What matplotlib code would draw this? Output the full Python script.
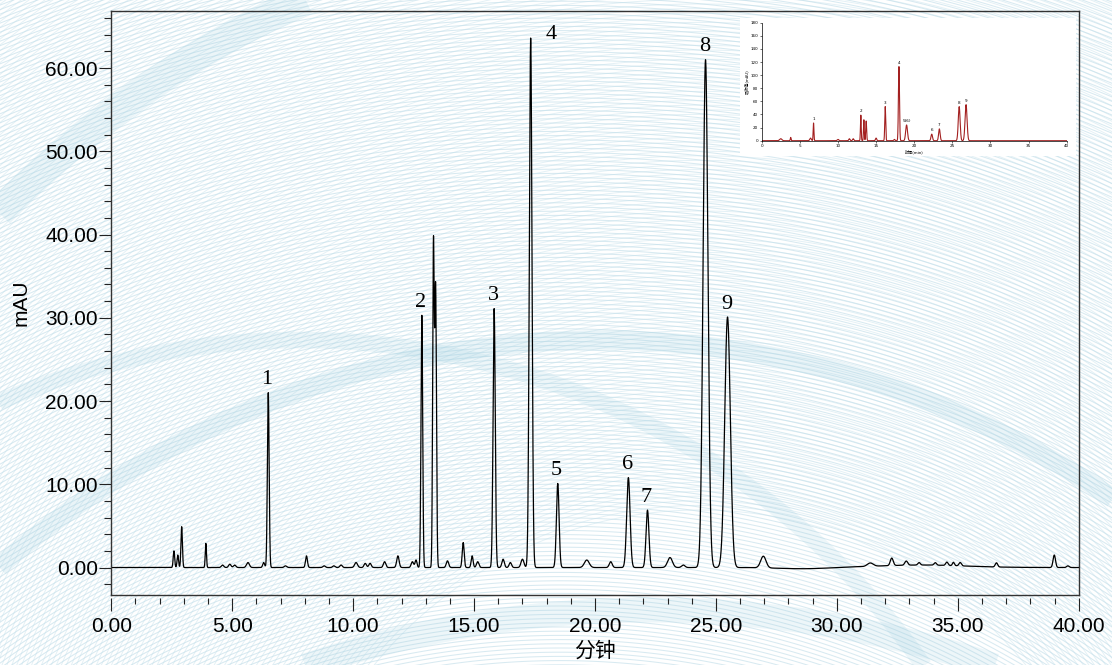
import numpy as np
import matplotlib
matplotlib.use("Agg")
import matplotlib.pyplot as plt
from matplotlib.collections import LineCollection
from matplotlib.ticker import MultipleLocator, FormatStrFormatter

# ---------------- data ----------------
# retention time (min), height (mAU), peak sigma (min)
peak_times = [2.59, 2.75, 2.91, 3.91, 4.60, 4.90, 5.10, 5.65, 6.30, 6.49,
              7.20, 8.07, 8.80, 9.20, 9.50, 10.12, 10.50, 10.70, 11.30, 11.85,
              12.45, 12.60, 12.84, 13.32, 13.41, 13.90, 14.55, 14.92, 15.15, 15.83,
              16.20, 16.50, 17.00, 17.34, 18.46, 19.66, 20.65, 21.38, 22.17, 23.10,
              23.65, 24.57, 25.48, 26.96, 31.38, 32.27, 32.87, 33.40, 34.07, 34.55,
              34.82, 35.10, 36.60, 38.99, 39.55]
peak_heights = [2.0, 1.5, 4.9, 2.9, 0.3, 0.4, 0.3, 0.6, 0.6, 21.0,
                0.2, 1.4, 0.2, 0.2, 0.3, 0.6, 0.5, 0.5, 0.7, 1.4,
                0.7, 0.9, 30.3, 38.5, 33.5, 0.8, 3.0, 1.4, 0.7, 31.1,
                1.0, 0.6, 1.0, 63.6, 10.1, 0.9, 0.7, 10.8, 6.9, 1.2,
                0.3, 61.0, 30.1, 1.4, 0.4, 0.9, 0.5, 0.3, 0.3, 0.4,
                0.4, 0.4, 0.5, 1.5, 0.2]
peak_sigmas = [0.03, 0.03, 0.03, 0.025, 0.05, 0.05, 0.05, 0.06, 0.04, 0.036,
               0.05, 0.04, 0.05, 0.05, 0.05, 0.06, 0.05, 0.05, 0.05, 0.05,
               0.05, 0.04, 0.035, 0.032, 0.035, 0.05, 0.04, 0.04, 0.05, 0.045,
               0.05, 0.05, 0.06, 0.055, 0.055, 0.10, 0.06, 0.07, 0.06, 0.10,
               0.07, 0.10, 0.115, 0.11, 0.12, 0.06, 0.06, 0.05, 0.05, 0.05,
               0.04, 0.05, 0.05, 0.05, 0.05]
# slow baseline drift components
drift_times = [28.6, 33.5]
drift_heights = [-0.15, 0.3]
drift_sigmas = [1.0, 1.8]

label_names = ["1", "2", "3", "4", "5", "6", "7", "8", "9"]
label_times = [6.49, 12.84, 15.83, 17.34, 18.46, 21.38, 22.17, 24.57, 25.48]

x_ticks = [0, 5, 10, 15, 20, 25, 30, 35, 40]
y_ticks = [0, 10, 20, 30, 40, 50, 60]

# inset (original full-scale chromatogram)
inset_times = [2.5, 3.8, 6.4, 6.8, 10.0, 11.5, 12.0, 13.0, 13.4, 13.7,
               15.0, 16.2, 17.4, 18.0, 19.0, 22.3, 23.3, 25.9, 26.8]
inset_heights = [3, 5, 4, 27, 2, 3, 3, 39, 32, 30,
                 4, 52, 2, 113, 24, 10, 18, 52, 55]
inset_sigmas = [0.15, 0.05, 0.1, 0.05, 0.1, 0.08, 0.08, 0.05, 0.05, 0.06,
                0.08, 0.06, 0.08, 0.07, 0.12, 0.1, 0.1, 0.12, 0.13]
inset_label_names = ["1", "2", "3", "4", "5(6)", "6", "7", "8", "9"]
inset_label_times = [6.8, 13.0, 16.2, 18.0, 19.0, 22.3, 23.3, 25.9, 26.8]


def trace(t, times, heights, sigmas):
    s = np.zeros_like(t)
    for c, h, w in zip(times, heights, sigmas):
        s += h * np.exp(-0.5 * ((t - c) / w) ** 2)
    return s


W, H = 1112, 665
fig = plt.figure(figsize=(W / 100, H / 100), dpi=100)
fig.patch.set_facecolor("white")

# ---------------- decorative background ----------------
bg = fig.add_axes([0, 0, 1, 1], zorder=-10)
bg.set_xlim(0, W)
bg.set_ylim(H, 0)
bg.axis("off")
th = np.linspace(0, 2 * np.pi, 1500)


def circle_family(cx, cy, radii, color, lw, alpha):
    segs = [np.column_stack([cx + r * np.cos(th), cy + r * np.sin(th)]) for r in radii]
    bg.add_collection(LineCollection(segs, colors=color, linewidths=lw, alpha=alpha))


circle_family(560, 1450, np.arange(760, 1750, 4.2), "#b8d9e6", 0.75, 0.55)
circle_family(700, 930, np.arange(420, 1200, 4.6), "#c3e0eb", 0.7, 0.45)

# broad translucent bands
for cx, cy, r, lw, a in [(600, 1250, 910, 14, 0.22),
                         (720, 920, 1010, 22, 0.2),
                         (650, 1700, 1090, 18, 0.18),
                         (300, 1100, 760, 12, 0.18)]:
    bg.plot(cx + r * np.cos(th), cy + r * np.sin(th), color="#9fcfe0", lw=lw, alpha=a,
            solid_capstyle="butt")

# ---------------- main chromatogram ----------------
ax = fig.add_axes([111.3 / W, 1 - 595 / H, (1078.7 - 111.3) / W, (595 - 10.6) / H], zorder=1)
ax.patch.set_visible(False)

t = np.linspace(0, 40, 16001)
sig = trace(t, peak_times, peak_heights, peak_sigmas) + trace(t, drift_times, drift_heights, drift_sigmas)
ax.plot(t, sig, color="black", lw=0.9)

ax.set_xlim(0, 40)
ax.set_ylim(-3.3, 66.9)

ax.set_xticks(x_ticks)
ax.set_yticks(y_ticks)
ax.xaxis.set_minor_locator(MultipleLocator(1))
ax.yaxis.set_minor_locator(MultipleLocator(2))
ax.xaxis.set_major_formatter(FormatStrFormatter("%.2f"))
ax.yaxis.set_major_formatter(FormatStrFormatter("%.2f"))

for s in ["top", "right", "left"]:
    ax.spines[s].set_color("#333333")
    ax.spines[s].set_linewidth(1.0)
ax.spines["bottom"].set_position(("outward", 2.2))
ax.spines["bottom"].set_visible(False)
ax.plot([0, 1], [0, 0], transform=ax.transAxes, color="#333333", lw=1.0, clip_on=False)

tick_font = "Liberation Sans"
ax.tick_params(axis="y", which="major", length=8.4, width=0.8, pad=1.2, labelsize=15, color="#222222")
ax.tick_params(axis="y", which="minor", length=5.0, width=0.8, color="#222222")
ax.tick_params(axis="x", which="major", length=9.4, width=0.8, pad=4, labelsize=15, color="#222222")
ax.tick_params(axis="x", which="minor", length=4.3, width=0.8, color="#222222")
for lab in ax.get_xticklabels() + ax.get_yticklabels():
    lab.set_fontfamily(tick_font)

ax.set_ylabel("mAU", fontsize=15, fontfamily=tick_font)
ax.yaxis.set_label_coords(-(111.3 - 31) / (1078.7 - 111.3), 0.5)
ax.set_xlabel("分钟", fontsize=15, fontfamily=["Noto Sans CJK SC", "DejaVu Sans"])
ax.xaxis.set_label_coords(0.5, -(640 - 595) / (595 - 10.6))

# peak labels
for name, lt in zip(label_names, label_times):
    top = np.interp(lt, t, sig)
    if name == "4":
        ax.text(lt + 0.85, top + 0.4, name, ha="center", va="center",
                fontsize=16, fontfamily="Liberation Serif")
    else:
        ax.text(lt - 0.05, top + 1.0, name, ha="center", va="baseline",
                fontsize=16, fontfamily="Liberation Serif")

# ---------------- inset ----------------
box = fig.add_axes([740 / W, 1 - 156 / H, (1076 - 740) / W, (156 - 18) / H], zorder=2)
box.set_facecolor("white")
box.set_xticks([])
box.set_yticks([])
for s in box.spines.values():
    s.set_visible(False)

ins = fig.add_axes([761.7 / W, 1 - 140.7 / H, (1066.7 - 761.7) / W, (140.7 - 22.7) / H], zorder=3)
ins.patch.set_visible(False)
ti = np.linspace(0, 40, 8001)
si = trace(ti, inset_times, inset_heights, inset_sigmas)
ins.plot(ti, si, color="#a32020", lw=0.8)
ins.set_xlim(0, 40)
ins.set_ylim(0, 180)
ins.set_xticks(np.arange(0, 41, 5))
ins.set_yticks(np.arange(0, 181, 20))
ins.tick_params(labelsize=3, length=1.5, width=0.4, pad=1)
for s in ["top", "right"]:
    ins.spines[s].set_visible(False)
for s in ["left", "bottom"]:
    ins.spines[s].set_linewidth(0.5)
ins.set_xlabel("时间(min)", fontsize=3, labelpad=1, fontfamily=["Noto Sans CJK SC", "DejaVu Sans"])
ins.set_ylabel("吸收值(mAU)", fontsize=3, labelpad=1, fontfamily=["Noto Sans CJK SC", "DejaVu Sans"])
for name, lt in zip(inset_label_names, inset_label_times):
    ins.text(lt, np.interp(lt, ti, si) + 3, name, fontsize=3, ha="center", va="bottom")

fig.savefig("out.png", dpi=100)
